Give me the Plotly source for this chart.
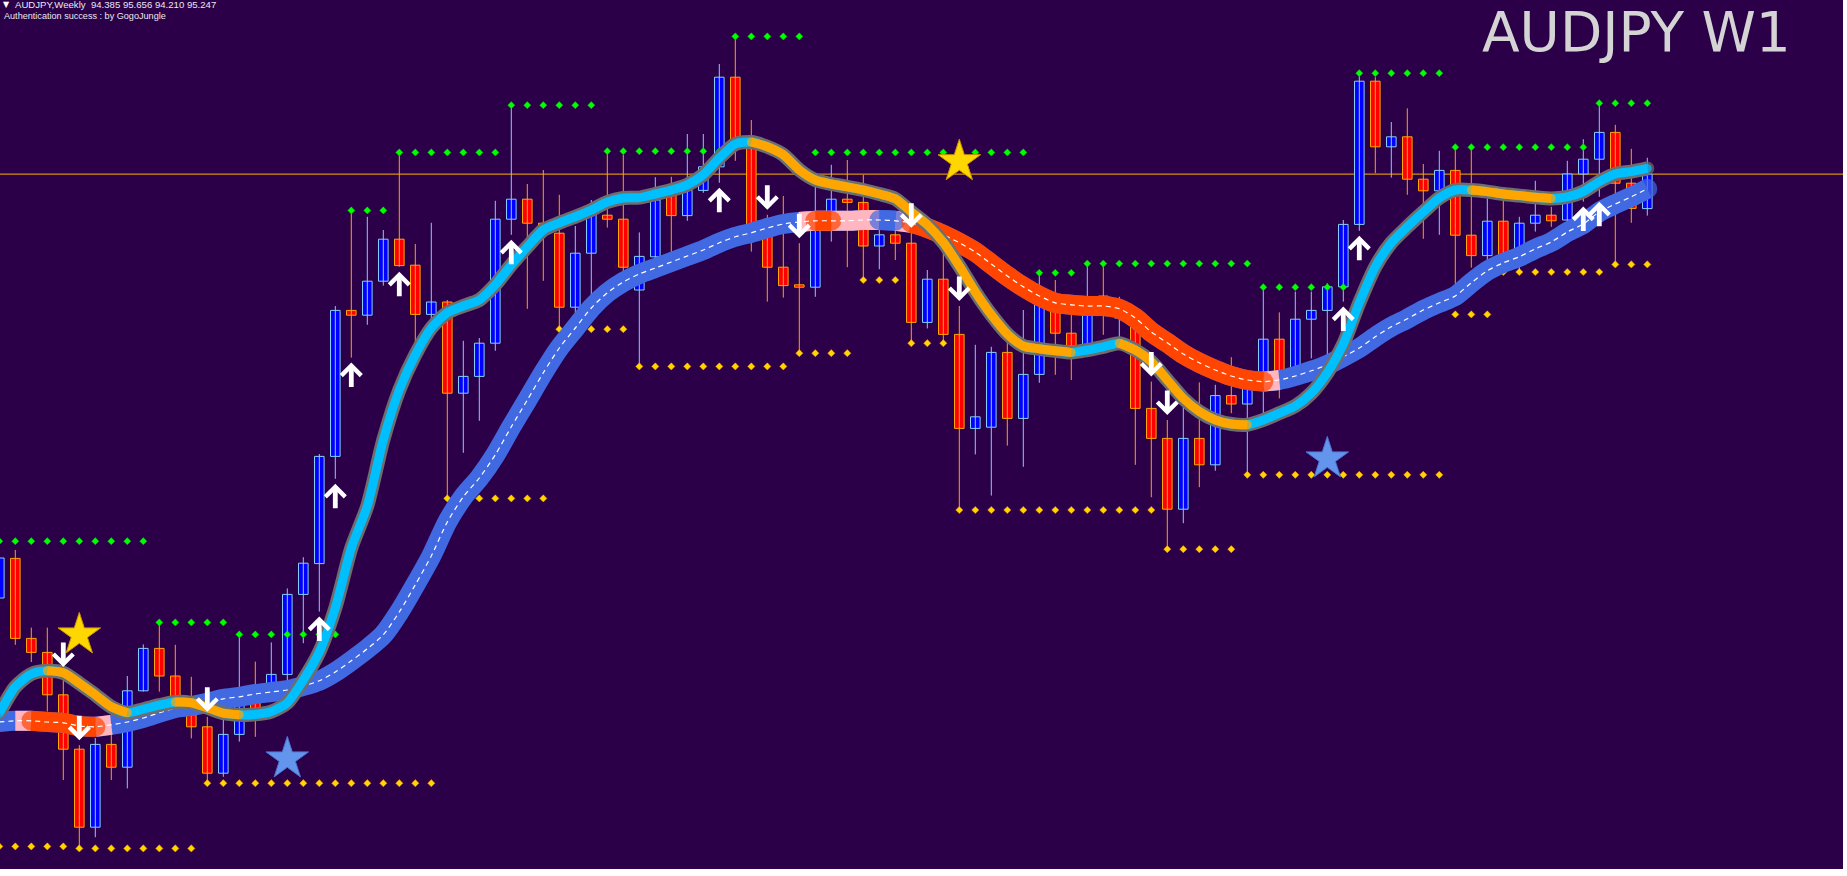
import plotly.graph_objects as go

# ------------------------------------------------------------------ data
symbol = "AUDJPY"
period_name = "Weekly"
period_code = "W1"
provider_note = "Authentication success : by GogoJungle"

opens = [84.65, 85.64, 83.64, 83.29, 82.23, 80.87, 78.92, 80.99, 80.42, 82.33,
         83.39, 82.70, 81.73, 81.43, 80.27, 81.24, 82.23, 82.40, 82.74, 84.74,
         85.51, 88.19, 91.84, 91.72, 92.57, 93.62, 92.97, 91.74, 92.05, 89.77,
         90.19, 91.02, 94.12, 94.62, 94.02, 93.77, 91.92, 93.27, 94.22, 94.12,
         92.35, 93.18, 94.74, 94.21, 94.84, 95.43, 97.67, 96.10, 93.93, 92.92,
         92.48, 92.42, 93.85, 94.62, 94.54, 93.45, 93.73, 93.52, 91.54, 92.62,
         91.24, 88.89, 88.92, 90.79, 89.14, 90.24, 92.10, 91.27, 90.98, 92.20,
         91.65, 91.43, 89.39, 88.64, 86.87, 88.64, 87.98, 89.71, 89.50, 89.98,
         91.12, 90.35, 91.62, 91.84, 92.43, 93.99, 97.57, 95.93, 96.18, 95.12,
         94.83, 95.34, 93.72, 93.21, 94.07, 93.23, 94.02, 94.22, 94.10, 95.25,
         95.62, 96.29, 95.02, 94.385]
highs = [85.70, 85.85, 83.91, 83.91, 82.80, 80.97, 81.15, 82.10, 82.70, 83.49,
         84.05, 83.48, 82.68, 81.68, 81.60, 83.74, 83.06, 83.54, 84.89, 85.67,
         88.25, 91.95, 94.34, 94.18, 93.85, 95.79, 93.50, 94.03, 92.10, 91.08,
         91.15, 94.58, 96.97, 95.00, 95.35, 94.73, 93.95, 94.60, 95.82, 95.73,
         93.79, 95.17, 95.18, 96.25, 96.25, 98.00, 98.70, 96.60, 94.23, 94.70,
         93.52, 95.27, 95.48, 95.60, 95.23, 94.35, 93.93, 93.78, 92.85, 93.31,
         91.95, 90.98, 90.93, 91.18, 91.85, 92.78, 92.60, 91.77, 93.02, 93.02,
         92.18, 91.85, 90.06, 89.10, 89.48, 90.04, 89.98, 90.67, 90.10, 92.42,
         91.79, 92.31, 92.31, 92.52, 94.10, 97.77, 97.67, 96.55, 96.89, 95.50,
         95.83, 95.92, 95.92, 94.64, 94.60, 94.18, 95.08, 94.43, 95.58, 96.12,
         97.02, 96.48, 95.88, 95.656]
lows = [84.55, 83.48, 83.05, 81.81, 80.10, 78.39, 78.67, 80.10, 79.89, 82.31,
        82.31, 82.03, 81.14, 80.02, 80.18, 81.06, 81.18, 82.30, 82.53, 83.52,
        84.31, 87.63, 90.66, 91.48, 92.46, 92.93, 90.85, 91.28, 87.14, 88.28,
        89.08, 90.83, 93.73, 91.88, 92.58, 91.37, 91.43, 91.98, 93.91, 92.77,
        90.44, 93.05, 93.18, 94.08, 94.78, 95.03, 95.58, 93.31, 92.06, 92.16,
        90.77, 92.18, 93.56, 92.92, 92.60, 92.87, 93.10, 91.02, 91.39, 91.02,
        86.85, 88.24, 87.21, 88.46, 87.93, 90.03, 90.23, 90.10, 90.85, 91.23,
        91.18, 87.98, 87.17, 85.87, 86.52, 87.42, 87.83, 89.27, 87.73, 89.27,
        89.64, 90.10, 90.64, 90.68, 92.06, 93.83, 95.27, 95.16, 94.73, 93.63,
        93.73, 92.35, 92.91, 92.93, 92.85, 92.78, 93.81, 93.93, 93.93, 94.56,
        94.68, 92.99, 94.03, 94.210]
closes = [85.65, 83.64, 83.29, 82.23, 80.87, 78.92, 80.99, 80.42, 82.33, 83.39,
          82.70, 82.18, 81.43, 80.27, 81.24, 81.98, 81.73, 82.74, 84.74, 85.52,
          88.19, 91.84, 91.72, 92.57, 93.62, 92.96, 91.74, 92.05, 89.77, 90.19,
          91.02, 94.12, 94.62, 94.02, 93.78, 91.92, 93.27, 94.30, 94.12, 92.92,
          93.19, 94.60, 94.21, 94.84, 95.43, 97.67, 96.10, 93.93, 92.92, 92.46,
          92.42, 93.85, 94.62, 94.54, 93.45, 93.73, 93.52, 91.54, 92.62, 91.24,
          88.89, 89.18, 90.79, 89.14, 90.24, 92.14, 91.27, 90.95, 92.18, 91.95,
          91.95, 89.39, 88.64, 86.87, 88.64, 87.98, 89.71, 89.50, 89.90, 91.12,
          90.30, 91.62, 91.84, 92.43, 93.99, 97.57, 95.93, 96.18, 95.12, 94.83,
          95.34, 93.72, 93.21, 94.07, 93.17, 94.02, 94.22, 94.08, 95.25, 95.62,
          96.29, 95.02, 94.39, 95.247]

# fast trend line (thin, cyan / orange)
fast_line = [81.77, 82.43, 82.75, 82.83, 82.78, 82.52, 82.23, 81.93, 81.78, 81.87,
             81.97, 82.05, 82.03, 81.91, 81.77, 81.73, 81.74, 81.81, 82.03, 82.60,
             83.30, 84.40, 85.90, 86.95, 88.60, 89.85, 90.73, 91.40, 91.78, 91.95,
             92.10, 92.48, 92.98, 93.43, 93.85, 94.03, 94.18, 94.35, 94.55, 94.65,
             94.66, 94.75, 94.85, 94.98, 95.23, 95.65, 96.00, 96.05, 95.93, 95.73,
             95.35, 95.10, 95.00, 94.93, 94.85, 94.75, 94.63, 94.30, 93.98, 93.54,
             92.95, 92.30, 91.73, 91.25, 90.95, 90.88, 90.83, 90.79, 90.85, 90.93,
             91.02, 90.85, 90.56, 90.10, 89.64, 89.31, 89.10, 89.00, 88.98, 89.10,
             89.27, 89.45, 89.77, 90.28, 91.00, 92.03, 92.93, 93.53, 93.93, 94.30,
             94.65, 94.85, 94.85, 94.81, 94.75, 94.71, 94.67, 94.64, 94.68, 94.81,
             95.06, 95.25, 95.31, 95.39]
fast_down_runs = [(3, 8), (11, 15), (47, 67), (70, 78), (92, 97)]

# slow trend band (wide, blue / red / pink)
slow_line = [81.55, 81.58, 81.58, 81.55, 81.53, 81.45, 81.43, 81.48, 81.55, 81.65,
             81.78, 81.90, 81.95, 82.03, 82.13, 82.18, 82.25, 82.30, 82.35, 82.45,
             82.58, 82.80, 83.08, 83.38, 83.73, 84.30, 84.98, 85.70, 86.55, 87.18,
             87.65, 88.23, 88.93, 89.60, 90.28, 90.90, 91.40, 91.90, 92.28, 92.55,
             92.75, 92.90, 93.05, 93.20, 93.35, 93.53, 93.68, 93.78, 93.90, 94.00,
             94.05, 94.08, 94.08, 94.08, 94.10, 94.10, 94.08, 94.03, 93.90, 93.73,
             93.53, 93.30, 93.00, 92.70, 92.43, 92.20, 92.03, 91.98, 91.95, 91.95,
             91.88, 91.65, 91.30, 91.03, 90.75, 90.53, 90.35, 90.20, 90.10, 90.06,
             90.10, 90.20, 90.33, 90.48, 90.68, 90.90, 91.18, 91.43, 91.63, 91.85,
             92.03, 92.20, 92.53, 92.83, 93.03, 93.18, 93.38, 93.55, 93.80, 94.00,
             94.30, 94.50, 94.68, 94.88]
slow_down_runs = [(2, 6), (51, 52), (57, 79)]
slow_flat_runs = [(1, 2), (6, 7), (50, 55), (56, 57), (79, 80)]
slow_up_over_flat_runs = [(55, 56)]

# dotted resistance (green) / support (yellow) levels
res_start = [0, 10, 15, 22, 25, 32, 38, 46, 51, 65, 68, 79, 85, 91, 100]
res_end = [9, 14, 21, 24, 31, 37, 45, 50, 64, 67, 78, 84, 90, 99, 103]
res_price = [86.07, 84.04, 83.74, 94.34, 95.79, 96.97, 95.82, 98.69, 95.79,
             92.78, 93.01, 92.42, 97.77, 95.92, 97.02]
sup_start = [0, 5, 13, 28, 35, 40, 50, 54, 57, 60, 73, 78, 91, 94, 101]
sup_end = [4, 12, 27, 34, 39, 49, 53, 56, 59, 72, 77, 90, 93, 100, 103]
sup_price = [78.44, 78.39, 80.02, 87.14, 91.37, 90.44, 90.77, 92.60, 91.02,
             86.85, 85.87, 87.73, 91.74, 92.80, 92.99]

# signal arrows and stars
up_arrow_bars = [20, 21, 22, 25, 32, 45, 84, 85, 99, 100]
down_arrow_bars = [4, 5, 13, 48, 50, 57, 60, 72, 73]
sell_star_bars = [5, 60]
sell_star_price = [83.73, 95.56]
buy_star_bars = [18, 83]
buy_star_price = [80.63, 88.13]

# ------------------------------------------------------------------ styles / geometry
FIG_W, FIG_H = 1847, 876
M_L, M_R, M_T, M_B = 0, 4, 0, 7
PLOT_W = FIG_W - M_L - M_R
PLOT_H = FIG_H - M_T - M_B
BAR_PX = 16.0           # pixels between bars
FIRST_BAR_PX = -0.7     # pixel position of bar 0
Y_TOP = 99.6
PX_PER_UNIT = 40.0
x_range = [(0 - FIRST_BAR_PX) / BAR_PX, (PLOT_W - FIRST_BAR_PX) / BAR_PX]
y_range = [Y_TOP - PLOT_H / PX_PER_UNIT, Y_TOP]

BG = "#2B0048"
UP_FILL, UP_EDGE = "#0000FF", "#87CEFA"
DN_FILL, DN_EDGE = "#FF0000", "#FFA500"
FAST_EDGE, FAST_UP, FAST_DN = "#6E6E6E", "#00BFFF", "#FFA500"
SLOW_UP, SLOW_DN, SLOW_FLAT = "#4169E1", "#FF4500", "#FFB6C1"
RES_COL, SUP_COL = "#00FF00", "#FFD700"
SLOW_W, FAST_W, FAST_EDGE_W = 20, 9, 14

n = len(opens)
bars = list(range(n))
up_idx = [i for i in bars if closes[i] >= opens[i]]
dn_idx = [i for i in bars if closes[i] < opens[i]]

fig = go.Figure()


def wick_trace(idx, color):
    xs, ys = [], []
    for i in idx:
        xs += [i, i, None]
        ys += [lows[i], highs[i], None]
    return go.Scatter(x=xs, y=ys, mode="lines", line=dict(color=color, width=1),
                      hoverinfo="skip", showlegend=False)


def body_trace(idx, fill, edge):
    return go.Bar(x=idx,
                  y=[abs(closes[i] - opens[i]) for i in idx],
                  base=[min(opens[i], closes[i]) for i in idx],
                  width=0.6, marker=dict(color=fill, line=dict(color=edge, width=1)),
                  hoverinfo="skip", showlegend=False)


def run_trace(series, a, b, color, width, dash=None, caps=True):
    xs = list(range(a, b + 1))
    ys = [series[i] for i in xs]
    sizes = [0] * len(xs)
    if caps:
        sizes[0] = width
        sizes[-1] = width
    line = dict(color=color, width=width, shape="spline", smoothing=0.7)
    if dash:
        line["dash"] = dash
    return go.Scatter(x=xs, y=ys, mode="lines+markers" if caps else "lines",
                      line=line, marker=dict(size=sizes, color=color, line=dict(width=0)),
                      hoverinfo="skip", showlegend=False)


def level_trace(starts, ends, prices, color, edge):
    xs, ys = [], []
    for a, b, p in zip(starts, ends, prices):
        for i in range(a, b + 1):
            xs.append(i)
            ys.append(p)
    return go.Scatter(x=xs, y=ys, mode="markers",
                      marker=dict(symbol="diamond", size=5.5, color=color,
                                  line=dict(color=edge, width=0.5)),
                      hoverinfo="skip", showlegend=False)


# candles
fig.add_trace(wick_trace(up_idx, UP_EDGE))
fig.add_trace(wick_trace(dn_idx, DN_EDGE))
fig.add_trace(body_trace(up_idx, UP_FILL, UP_EDGE))
fig.add_trace(body_trace(dn_idx, DN_FILL, DN_EDGE))

# dotted levels
fig.add_trace(level_trace(res_start, res_end, res_price, RES_COL, "#00C000"))
fig.add_trace(level_trace(sup_start, sup_end, sup_price, SUP_COL, "#FF9900"))

# slow band
fig.add_trace(run_trace(slow_line, 0, n - 1, SLOW_UP, SLOW_W))
for a, b in slow_flat_runs:
    fig.add_trace(run_trace(slow_line, a, b, SLOW_FLAT, SLOW_W, caps=False))
for a, b in slow_up_over_flat_runs:
    fig.add_trace(run_trace(slow_line, a, b, SLOW_UP, SLOW_W))
for a, b in slow_down_runs:
    fig.add_trace(run_trace(slow_line, a, b, SLOW_DN, SLOW_W))
fig.add_trace(run_trace(slow_line, 0, n - 1, "#FFFFFF", 1.2, dash="5px,4px", caps=False))

# fast line
fig.add_trace(run_trace(fast_line, 0, n - 1, FAST_EDGE, FAST_EDGE_W))
fig.add_trace(run_trace(fast_line, 0, n - 1, FAST_UP, FAST_W))
for a, b in fast_down_runs:
    fig.add_trace(run_trace(fast_line, a, b, FAST_DN, FAST_W))

# stars
fig.add_trace(go.Scatter(x=sell_star_bars, y=sell_star_price, mode="markers",
                         marker=dict(symbol="star", size=32, color="#FFD700",
                                     line=dict(color="#C89600", width=1)),
                         hoverinfo="skip", showlegend=False))
fig.add_trace(go.Scatter(x=buy_star_bars, y=buy_star_price, mode="markers",
                         marker=dict(symbol="star", size=32, color="#6495ED",
                                     line=dict(color="#4A72D0", width=1)),
                         hoverinfo="skip", showlegend=False))

annotations = []
# arrows
for i in up_arrow_bars:
    annotations.append(dict(x=i, y=lows[i], xref="x", yref="y", text="", showarrow=True,
                            ax=0, ay=26, yshift=-5, arrowhead=4, arrowsize=0.8,
                            arrowwidth=4.8, arrowcolor="#FFFFFF"))
for i in down_arrow_bars:
    annotations.append(dict(x=i, y=highs[i], xref="x", yref="y", text="", showarrow=True,
                            ax=0, ay=-26, yshift=5, arrowhead=4, arrowsize=0.8,
                            arrowwidth=4.8, arrowcolor="#FFFFFF"))


def text_ann(txt, px, py, size, color, family):
    return dict(text=txt, x=px / PLOT_W, y=1 - py / PLOT_H, xref="paper", yref="paper",
                xanchor="left", yanchor="middle", showarrow=False, borderpad=0,
                font=dict(size=size, color=color, family=family))


header = "%s,%s\u00a0\u00a0%.3f %.3f %.3f %.3f" % (symbol, period_name, opens[-1], highs[-1],
                                                    lows[-1], closes[-1])
annotations.append(text_ann("\u25bc", 2, 5, 8, "#FFFFFF", "DejaVu Sans"))
annotations.append(text_ann(header, 14, 5, 9.6, "#E8E8F0", "Liberation Sans"))
annotations.append(text_ann(provider_note, 3, 16.5, 9.1, "#E8E8F0", "Liberation Sans"))
annotations.append(text_ann("%s %s" % (symbol, period_code), 1481, 32, 55, "#D4D4D4",
                            "DejaVu Sans"))

fig.update_layout(
    width=FIG_W, height=FIG_H, autosize=False,
    margin=dict(l=M_L, r=M_R, t=M_T, b=M_B, pad=0),
    paper_bgcolor="#FFFFFF", plot_bgcolor=BG,
    barmode="overlay", bargap=0, showlegend=False,
    xaxis=dict(range=x_range, visible=False, showgrid=False, zeroline=False, fixedrange=True),
    yaxis=dict(range=y_range, visible=False, showgrid=False, zeroline=False, fixedrange=True),
    annotations=annotations,
    shapes=[dict(type="line", xref="paper", x0=0, x1=1, yref="y", y0=closes[-1], y1=closes[-1],
                 line=dict(color="#FFB400", width=1), layer="below")],
)

fig.write_html("out.html", config={"displayModeBar": False, "staticPlot": True},
               post_script="document.body.style.margin='0';")
